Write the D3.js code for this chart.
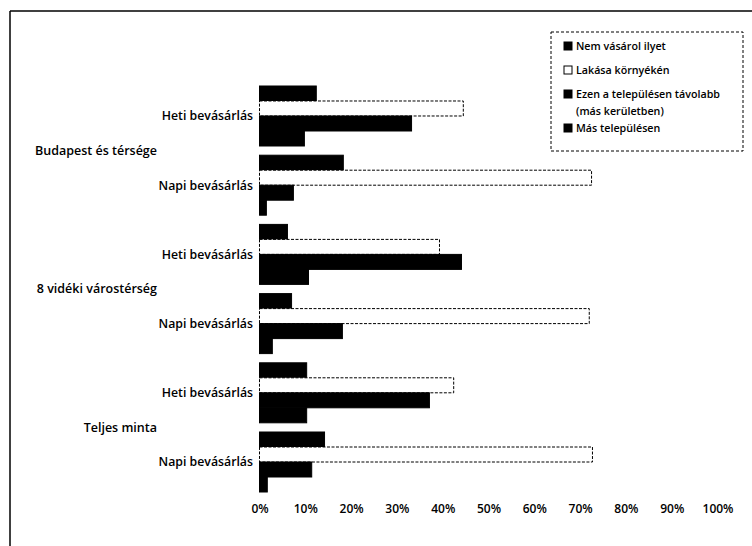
<!DOCTYPE html>
<html><head><meta charset="utf-8">
<script src="https://cdn.jsdelivr.net/npm/d3@7"></script>
<style>body{margin:0;background:#fff}svg{display:block}text{font-family:"Open Sans",sans-serif;fill:#000;font-weight:600}</style>
</head><body><svg id="c" width="752" height="546"></svg>
<script>
const groups = ["Budapest és térsége", "8 vidéki várostérség", "Teljes minta"];
const subcats = ["Heti bevásárlás", "Napi bevásárlás"];
const seriesNames = ["Nem vásárol ilyet", "Lakása környékén", "Ezen a településen távolabb (más kerületben)", "Más településen"];
const nemVasarol = [12.4, 18.3, 6.1, 7.0, 10.3, 14.2];
const lakasa     = [44.5, 72.5, 39.3, 72.0, 42.4, 72.7];
const ezenTelep  = [33.2, 7.4, 44.1, 18.1, 37.1, 11.4];
const masTelep   = [9.8, 1.5, 10.7, 2.8, 10.3, 1.7];
const tickValues = [0,10,20,30,40,50,60,70,80,90,100];

const seriesVals = [nemVasarol, lakasa, ezenTelep, masTelep];
const rows = [];
groups.forEach(g => subcats.forEach(s => rows.push(g + "|" + s)));

const svg = d3.select("#c");
svg.append("line").attr("x1",10).attr("y1",11).attr("x2",752).attr("y2",11).attr("stroke","#000").attr("stroke-width",1.5);
svg.append("line").attr("x1",10).attr("y1",11).attr("x2",10).attr("y2",546).attr("stroke","#000").attr("stroke-width",1.5);

const x = d3.scaleLinear().domain([0,100]).range([259.5,717.5]);
const y0 = d3.scaleBand().domain(rows).range([86,492]).paddingInner(0.133).paddingOuter(0);
const y1 = d3.scaleBand().domain(d3.range(4)).range([0,y0.bandwidth()]);

const fills = ["#000","#fff","#000","#000"];
const g = svg.append("g");
rows.forEach((r,i) => {
  seriesVals.forEach((vals,k) => {
    g.append("rect")
      .attr("x", x(0))
      .attr("y", y0(r) + y1(k))
      .attr("width", x(vals[i]) - x(0))
      .attr("height", y1.bandwidth())
      .attr("fill", fills[k])
      .attr("stroke", "#000")
      .attr("stroke-width", 1)
      .attr("stroke-dasharray", k===1 ? "3,1.5" : null);
  });
  svg.append("text")
    .attr("x", 253)
    .attr("y", y0(r) + y0.bandwidth()/2)
    .attr("dy","0.35em")
    .attr("text-anchor","end")
    .attr("font-size", 12.3)
    .text(r.split("|")[1]);
});
groups.forEach((gname) => {
  const a = y0(gname + "|" + subcats[0]) + y0.bandwidth()/2;
  const b = y0(gname + "|" + subcats[1]) + y0.bandwidth()/2;
  svg.append("text")
    .attr("x", 157)
    .attr("y", (a+b)/2)
    .attr("dy","0.35em")
    .attr("text-anchor","end")
    .attr("font-size", 12.5)
    .text(gname);
});

const ax = svg.append("g").attr("transform","translate(0,497)")
  .call(d3.axisBottom(x).tickValues(tickValues).tickSize(0).tickPadding(7).tickFormat(d => d + "%"));
ax.select(".domain").remove();
ax.selectAll("text").attr("font-size", 12).attr("font-family","\"Open Sans\",sans-serif").attr("font-weight",600).attr("fill","#000");

const lg = svg.append("g");
lg.append("rect").attr("x",551).attr("y",32).attr("width",192).attr("height",119)
  .attr("fill","#fff").attr("stroke","#000").attr("stroke-width",1).attr("stroke-dasharray","3,2");
const legendLines = [
  {k:0, lines:[seriesNames[0]], y:46},
  {k:1, lines:[seriesNames[1]], y:70},
  {k:2, lines:["Ezen a településen távolabb","(más kerületben)"], y:94},
  {k:3, lines:[seriesNames[3]], y:128}
];
legendLines.forEach(e => {
  lg.append("rect").attr("x",564).attr("y",e.y-4).attr("width",8).attr("height",8)
    .attr("fill",fills[e.k]).attr("stroke","#000").attr("stroke-width",1);
  e.lines.forEach((t,j) => {
    lg.append("text").attr("x",576).attr("y",e.y + j*17).attr("dy","0.35em")
      .attr("font-size",10.7).text(t);
  });
});
</script></body></html>
